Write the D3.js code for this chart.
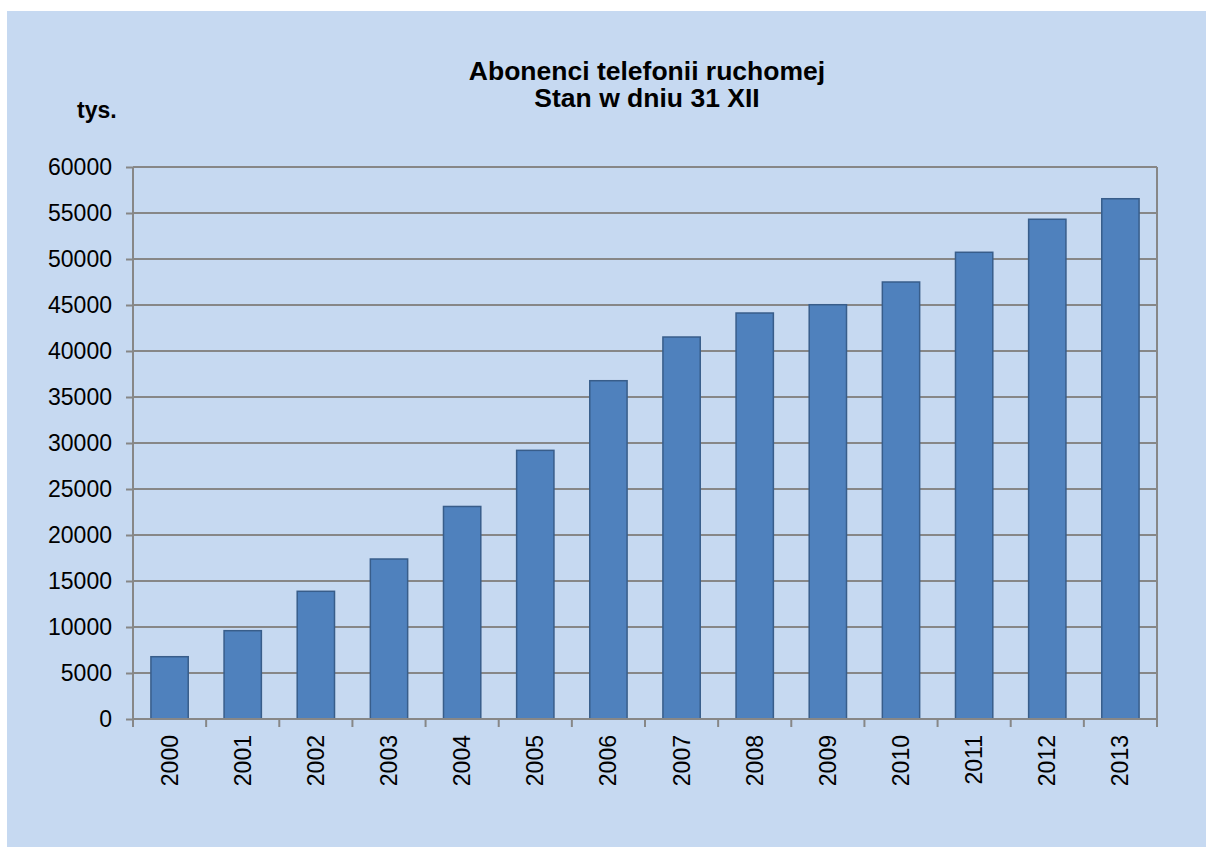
<!DOCTYPE html>
<html>
<head>
<meta charset="utf-8">
<script src="https://cdn.jsdelivr.net/npm/d3@7"></script>
<style>
    body { margin: 0; background: #fff; }
    svg text { font-family: "Liberation Sans", Arial, sans-serif; fill: #000; }
    .grid line { stroke: #878787; stroke-width: 2; }
    .axis path, .axis line { stroke: #878787; stroke-width: 2; }
</style>
</head>
<body>
<div id="chart"></div>
<script>
const years = ['2000', '2001', '2002', '2003', '2004', '2005', '2006', '2007', '2008', '2009', '2010', '2011', '2012', '2013'];
const subscribers = [6770, 9600, 13880, 17390, 23100, 29200, 36770, 41520, 44130, 45030, 47500, 50730, 54320, 56550];
const yTicks = [0, 5000, 10000, 15000, 20000, 25000, 30000, 35000, 40000, 45000, 50000, 55000, 60000];
const titleLines = ['Abonenci telefonii ruchomej', 'Stan w dniu 31 XII'];
const unitLabel = 'tys.';

const width = 1206, height = 847;
const margin = { top: 167, right: 49, bottom: 128, left: 133 };
const innerW = width - margin.left - margin.right;
const innerH = height - margin.top - margin.bottom;

const svg = d3.select('#chart').append('svg')
    .attr('width', width)
    .attr('height', height);

// chart background
svg.append('rect')
    .attr('x', 7).attr('y', 11)
    .attr('width', width - 7).attr('height', height - 11)
    .attr('fill', '#C6D9F1');

const x = d3.scaleBand()
    .domain(years)
    .range([0, innerW])
    .paddingInner(0.49)
    .paddingOuter(0.245);

const y = d3.scaleLinear()
    .domain([0, 60000])
    .range([innerH, 0]);

const chart = svg.append('g')
    .attr('transform', `translate(${margin.left},${margin.top})`);

// gridlines
chart.append('g')
    .attr('class', 'grid')
    .selectAll('line')
    .data(yTicks.filter(d => d > 0))
    .join('line')
    .attr('x1', 0).attr('x2', innerW)
    .attr('y1', d => y(d)).attr('y2', d => y(d));

// right border of plot
chart.append('line')
    .attr('x1', innerW).attr('x2', innerW)
    .attr('y1', 0).attr('y2', innerH)
    .attr('stroke', '#878787').attr('stroke-width', 2);

// bars
chart.selectAll('.bar')
    .data(years)
    .join('rect')
    .attr('class', 'bar')
    .attr('x', d => x(d))
    .attr('y', (d, i) => y(subscribers[i]))
    .attr('width', x.bandwidth())
    .attr('height', (d, i) => innerH - y(subscribers[i]))
    .attr('fill', '#4F81BD')
    .attr('stroke', '#385D8A')
    .attr('stroke-width', 1.5);

// y axis
const yAxisG = chart.append('g')
    .attr('class', 'axis')
    .call(d3.axisLeft(y).tickValues(yTicks).tickSize(7).tickPadding(14).tickFormat(d3.format('d')));
yAxisG.select('.domain').attr('d', `M0,0V${innerH}`);
yAxisG.selectAll('text').style('font-size', '23px');

// x axis: ticks sit on the band boundaries
const step = x.step();
const xAxisG = chart.append('g')
    .attr('class', 'axis')
    .attr('transform', `translate(0,${innerH})`);
xAxisG.append('line')
    .attr('x1', 0).attr('x2', innerW);
xAxisG.selectAll('.tick-mark')
    .data(d3.range(years.length + 1))
    .join('line')
    .attr('class', 'tick-mark')
    .attr('x1', i => i * step).attr('x2', i => i * step)
    .attr('y1', 0).attr('y2', 8);
xAxisG.selectAll('.year')
    .data(years)
    .join('text')
    .attr('class', 'year')
    .attr('transform', d => `translate(${x(d) + x.bandwidth() / 2 + 8},16) rotate(-90)`)
    .attr('text-anchor', 'end')
    .style('font-size', '23px')
    .text(d => d);

// title
svg.append('text')
    .attr('x', 647)
    .attr('y', 80)
    .attr('text-anchor', 'middle')
    .style('font-size', '26.5px')
    .style('font-weight', 'bold')
    .selectAll('tspan')
    .data(titleLines)
    .join('tspan')
    .attr('x', 647)
    .attr('dy', (d, i) => i === 0 ? 0 : 27)
    .text(d => d);

// unit label
svg.append('text')
    .attr('x', 77)
    .attr('y', 118)
    .style('font-size', '23px')
    .style('font-weight', 'bold')
    .text(unitLabel);
</script>
</body>
</html>
